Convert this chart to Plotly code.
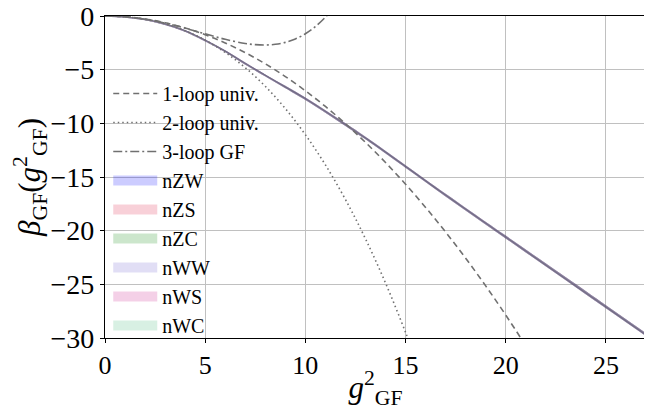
import plotly.graph_objects as go

# ---- data ----
g2_pt = [0, 1, 2, 3, 4, 5, 6, 7, 8, 9, 10, 11, 12, 13, 14, 15, 16, 17, 18, 19, 20, 21]
beta_1loop = [0, -0.070, -0.279, -0.627, -1.115, -1.742, -2.508, -3.413, -4.458, -5.642,
              -6.966, -8.429, -10.031, -11.773, -13.653, -15.674, -17.833, -20.132,
              -22.570, -25.147, -27.864, -30.72]

g2_2l = [0, 1, 2, 3, 4, 5, 6, 7, 8, 9, 10, 11, 12, 13, 14, 15, 15.5]
beta_2loop = [0, -0.074, -0.312, -0.737, -1.377, -2.253, -3.391, -4.816, -6.552, -8.624,
              -11.056, -13.873, -17.099, -20.759, -24.876, -29.478, -31.97]

g2_3l = [0, 1, 2, 3, 4, 5, 6, 7, 7.5, 8, 8.5, 9, 9.5, 10, 10.5, 11, 11.2, 11.5]
beta_3loop = [0, -0.073, -0.296, -0.661, -1.136, -1.665, -2.173, -2.559, -2.670, -2.702,
              -2.638, -2.457, -2.137, -1.656, -0.989, -0.110, 0.307, 1.008]

g2_np = [0, 1, 2, 3, 4, 5, 6, 7, 8, 9, 10, 11, 12, 13, 15, 17, 20, 23, 25, 27]
beta_np = [0, -0.08, -0.31, -0.74, -1.36, -2.24, -3.25, -4.40, -5.50, -6.58, -7.67,
           -8.86, -10.08, -11.33, -13.98, -16.64, -20.55, -24.45, -27.05, -29.65]
np_halfwidth = [0, 0.01, 0.02, 0.03, 0.04, 0.05, 0.05, 0.06, 0.06, 0.07, 0.07,
                0.07, 0.08, 0.08, 0.08, 0.09, 0.09, 0.10, 0.10, 0.10]

models = ["nZW", "nZS", "nZC", "nWW", "nWS", "nWC"]
model_colors = ["rgba(0,0,255,0.2)", "rgba(220,20,60,0.2)", "rgba(0,128,0,0.2)",
                "rgba(106,90,205,0.2)", "rgba(199,21,133,0.2)", "rgba(60,179,113,0.2)"]

x_ticks = [0, 5, 10, 15, 20, 25]
y_ticks = [0, -5, -10, -15, -20, -25, -30]

SERIF = "Times New Roman"

fig = go.Figure()

for name, col in zip(models, model_colors):
    upper = [b + h for b, h in zip(beta_np, np_halfwidth)]
    lower = [b - h for b, h in zip(beta_np, np_halfwidth)]
    fig.add_trace(go.Scatter(x=g2_np, y=upper, mode="lines", line=dict(width=0, shape="spline"),
                             showlegend=False, hoverinfo="skip", legendgroup=name))
    fig.add_trace(go.Scatter(x=g2_np, y=lower, mode="lines", fill="tonexty", fillcolor=col,
                             line=dict(width=1.5, color=col, shape="spline"),
                             name=name, showlegend=False, legendgroup=name))

fig.add_trace(go.Scatter(x=g2_pt, y=beta_1loop, mode="lines", name="1-loop univ.",
                         line=dict(color="#707070", width=1.6, dash="6px,4px", shape="spline"),
                         legendgroup="a"))
fig.add_trace(go.Scatter(x=g2_2l, y=beta_2loop, mode="lines", name="2-loop univ.",
                         line=dict(color="#707070", width=1.6, dash="1.5px,3px", shape="spline"),
                         legendgroup="b"))
fig.add_trace(go.Scatter(x=g2_3l, y=beta_3loop, mode="lines", name="3-loop GF",
                         line=dict(color="#707070", width=1.6, dash="9px,3px,2px,3px", shape="spline"),
                         legendgroup="c"))

for name, col in zip(models, model_colors):
    fig.add_trace(go.Scatter(x=[None], y=[None], mode="lines", name=name,
                             line=dict(color=col, width=15), legendgroup=name))

fig.update_layout(
    width=644, height=402,
    margin=dict(l=97, r=6, t=8, b=72, autoexpand=False),
    paper_bgcolor="white", plot_bgcolor="white",
    font=dict(family=SERIF, size=22, color="black"),
    showlegend=True,
    legend=dict(x=0.006, y=0.82, xanchor="left", yanchor="top",
                bgcolor="rgba(0,0,0,0)", font=dict(size=20, family=SERIF),
                itemwidth=44, tracegroupgap=0, traceorder="grouped"),
    xaxis=dict(range=[0, 27], tickvals=x_ticks, showgrid=True, gridcolor="#c0c0c0", gridwidth=1,
               showline=True, linecolor="black", linewidth=1.2, mirror=True,
               ticks="outside", ticklen=4, tickcolor="black", zeroline=False, automargin=False,
               ticklabeloverflow="allow", tickfont=dict(family=SERIF, size=26),
               title=dict(text="<i>g</i><sup>2</sup><sub>GF</sub>", font=dict(family=SERIF, size=31),
                          standoff=0)),
    yaxis=dict(range=[-30, 0], tickvals=y_ticks, showgrid=True, gridcolor="#c0c0c0", gridwidth=1,
               showline=True, linecolor="black", linewidth=1.2, mirror=True,
               ticks="outside", ticklen=4, tickcolor="black", zeroline=False, automargin=False,
               ticklabeloverflow="allow", tickfont=dict(family=SERIF, size=28),
               title=dict(text="<i>β</i><sub>GF</sub>(<i>g</i><sup>2</sup><sub>GF</sub>)",
                          font=dict(family=SERIF, size=31), standoff=2)),
)

fig.write_html("out.html")
